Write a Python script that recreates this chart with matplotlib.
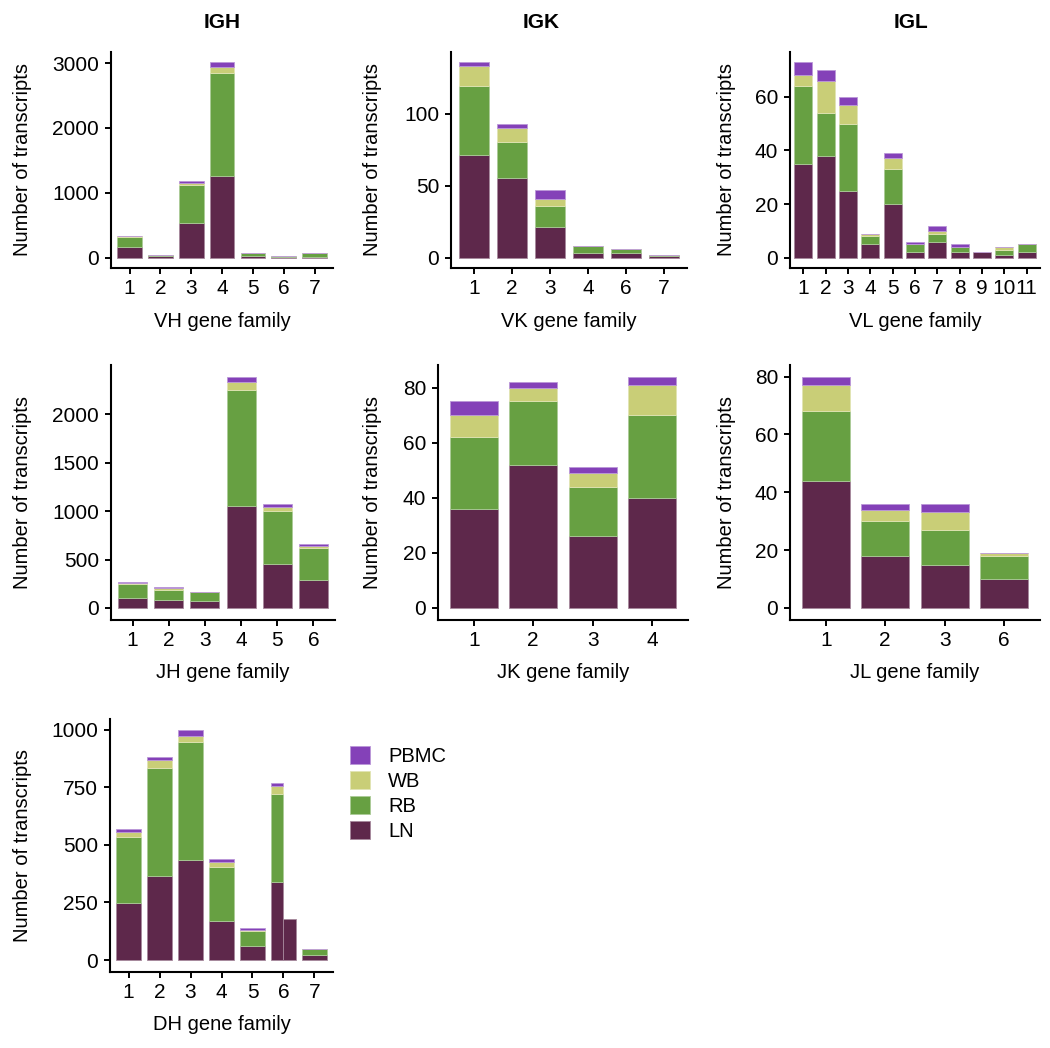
import matplotlib
matplotlib.use("Agg")
import matplotlib.pyplot as plt
from matplotlib.colors import to_rgb
import numpy as np

plt.rcParams['font.family'] = ['Liberation Sans', 'DejaVu Sans']

# ---------------- data ----------------
groups = ["LN", "RB", "WB", "PBMC"]
colors = {"LN": "#5E284B", "RB": "#67A042", "WB": "#C9CE77", "PBMC": "#8441B8"}

vh_cats = ["1", "2", "3", "4", "5", "6", "7"]
vh_ln = [170, 20, 535, 1263, 26, 5, 15]
vh_rb = [143, 20, 585, 1587, 51, 15, 62]
vh_wb = [17, 0, 30, 83, 0, 0, 0]
vh_pbmc = [9, 1, 26, 87, 0, 0, 0]

vk_cats = ["1", "2", "3", "4", "6", "7"]
vk_ln = [71, 55, 21, 3, 3, 1]
vk_rb = [48, 25, 15, 5, 3, 1]
vk_wb = [14, 10, 5, 0, 0, 0]
vk_pbmc = [3, 3, 6, 0, 0, 0]

vl_cats = ["1", "2", "3", "4", "5", "6", "7", "8", "9", "10", "11"]
vl_ln = [35, 38, 25, 5, 20, 2, 6, 2, 2, 1, 2]
vl_rb = [29, 16, 25, 3, 13, 3, 3, 2, 0, 2, 3]
vl_wb = [4, 12, 7, 1, 4, 0, 1, 0, 0, 1, 0]
vl_pbmc = [5, 4, 3, 0, 2, 1, 2, 1, 0, 0, 0]

jh_cats = ["1", "2", "3", "4", "5", "6"]
jh_ln = [105, 82, 70, 1050, 450, 290]
jh_rb = [142, 103, 95, 1205, 555, 325]
jh_wb = [12, 20, 0, 75, 37, 25]
jh_pbmc = [6, 8, 0, 60, 28, 18]

jk_cats = ["1", "2", "3", "4"]
jk_ln = [36, 52, 26, 40]
jk_rb = [26, 23, 18, 30]
jk_wb = [8, 5, 5, 11]
jk_pbmc = [5, 2, 2, 3]

jl_cats = ["1", "2", "3", "6"]
jl_ln = [44, 18, 15, 10]
jl_rb = [24, 12, 12, 8]
jl_wb = [9, 4, 6, 1]
jl_pbmc = [3, 2, 3, 0]

dh_cats = ["1", "2", "3", "4", "5", "6", "7"]
dh_ln = [247, 365, 436, 170, 62, 338, 22]
dh_rb = [287, 469, 512, 233, 65, 383, 24]
dh_wb = [21, 33, 22, 23, 3, 32, 0]
dh_pbmc = [12, 14, 26, 14, 7, 17, 0]
# second (dodged) LN-only bar sharing category "6"
dh_extra_cat = "6"
dh_extra_ln = 180

titles = {"IGH": 222, "IGK": 541, "IGL": 911}

# ---------------- layout ----------------
W, H = 1050, 1048
fig = plt.figure(figsize=(W / 100, H / 100), dpi=100)

FS = 14.5
TFS = 15


def edge_of(c):
    r, g, b = to_rgb(c)
    return (r + (1 - r) * 0.45, g + (1 - g) * 0.45, b + (1 - b) * 0.45)


def make_ax(l, r, t, b):
    return fig.add_axes([l / W, 1 - b / H, (r - l) / W, (b - t) / H])


def draw_panel(ax, cats, ln, rb, wb, pbmc, xlabel, yticks, ylab_px, xlab_px, l, r, t, b,
               width=0.8, special=None):
    x = np.arange(1, len(cats) + 1, dtype=float)
    series = {"LN": np.array(ln, float), "RB": np.array(rb, float),
              "WB": np.array(wb, float), "PBMC": np.array(pbmc, float)}
    xs = x.copy()
    ws = np.full(len(cats), width)
    if special is not None:
        idx, extra = special
        xs[idx] = x[idx] - width / 4
        ws[idx] = width / 2
    bottom = np.zeros(len(cats))
    handles = {}
    for g in groups:
        h = ax.bar(xs, series[g], width=ws, bottom=bottom, color=colors[g],
                   edgecolor=edge_of(colors[g]), linewidth=0.6, label=g)
        handles[g] = h
        bottom = bottom + series[g]
    if special is not None:
        idx, extra = special
        ax.bar([x[idx] + width / 4], [extra], width=width / 2, color=colors["LN"],
               edgecolor=edge_of(colors["LN"]), linewidth=0.6)
    top = bottom.max()
    ax.set_ylim(-0.05 * top, 1.05 * top)
    ax.set_xlim(0.4, len(cats) + 0.6)
    ax.set_xticks(x)
    ax.set_xticklabels(cats)
    ax.set_yticks(yticks)
    ax.set_yticklabels([str(v) for v in yticks])
    for s in ["top", "right"]:
        ax.spines[s].set_visible(False)
    for s in ["left", "bottom"]:
        ax.spines[s].set_linewidth(1.5)
    ax.tick_params(axis="both", labelsize=TFS, length=4.5, width=1.4, pad=4, colors="black")
    ax.set_xlabel(xlabel, fontsize=FS)
    ax.set_ylabel("Number of transcripts", fontsize=FS)
    ax.yaxis.set_label_coords((ylab_px - l) / (r - l), 0.5)
    ax.yaxis.label.set_verticalalignment("center")
    ax.xaxis.set_label_coords(0.5, (b - xlab_px) / (b - t))
    ax.xaxis.label.set_verticalalignment("center")
    return handles


row1 = (52, 267.5)
row2 = (365, 619.5)
row3 = (719, 971.5)

panels = [
    (vh_cats, vh_ln, vh_rb, vh_wb, vh_pbmc, "VH gene family", [0, 1000, 2000, 3000], 23, 321, 111, 333, row1, None),
    (vk_cats, vk_ln, vk_rb, vk_wb, vk_pbmc, "VK gene family", [0, 50, 100], 373, 321, 451, 687, row1, None),
    (vl_cats, vl_ln, vl_rb, vl_wb, vl_pbmc, "VL gene family", [0, 20, 40, 60], 727, 321, 790, 1040, row1, None),
    (jh_cats, jh_ln, jh_rb, jh_wb, jh_pbmc, "JH gene family", [0, 500, 1000, 1500, 2000], 23, 673, 111, 335, row2, None),
    (jk_cats, jk_ln, jk_rb, jk_wb, jk_pbmc, "JK gene family", [0, 20, 40, 60, 80], 373, 673, 438, 688, row2, None),
    (jl_cats, jl_ln, jl_rb, jl_wb, jl_pbmc, "JL gene family", [0, 20, 40, 60, 80], 727, 673, 790, 1040, row2, None),
    (dh_cats, dh_ln, dh_rb, dh_wb, dh_pbmc, "DH gene family", [0, 250, 500, 750, 1000], 23, 1025, 110, 333, row3,
     (dh_cats.index(dh_extra_cat), dh_extra_ln)),
]

handles = None
for cats, ln, rb, wb, pbmc, xl, yt, ylp, xlp, l, r, (t, b), special in panels:
    ax = make_ax(l, r, t, b)
    hs = draw_panel(ax, cats, ln, rb, wb, pbmc, xl, yt, ylp, xlp, l, r, t, b, special=special)
    handles = hs

for name, xc in titles.items():
    fig.text(xc / W, 1 - 22 / H, name, ha="center", va="center", fontsize=15, fontweight="bold")

order = ["PBMC", "WB", "RB", "LN"]
leg = fig.legend([handles[g] for g in order], order, loc="upper left",
                 bbox_to_anchor=(350 / W, 1 - 746 / H), frameon=False, fontsize=FS,
                 handlelength=1.0, handleheight=1.0, handletextpad=0.9, labelspacing=0.25,
                 borderpad=0, borderaxespad=0)

fig.savefig("out.png", dpi=100, facecolor="white")
